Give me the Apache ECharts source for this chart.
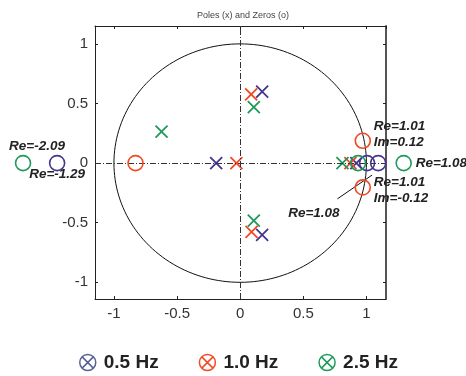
<!DOCTYPE html>
<html>
<head>
<meta charset="utf-8">
<script src="https://cdn.jsdelivr.net/npm/echarts@6/dist/echarts.min.js"></script>
<style>
html,body{margin:0;padding:0;background:#fff;}
#chart{width:466px;height:376px;}
</style>
</head>
<body>
<div id="chart"></div>
<script>
// ---- data ----
var seriesNames = ['0.5 Hz', '1.0 Hz', '2.5 Hz'];
var poles05 = [[-0.19, 0], [0.174, 0.60], [0.174, -0.603], [0.92, 0]];
var poles10 = [[-0.03, 0], [0.087, 0.577], [0.09, -0.577], [0.873, 0]];
var poles25 = [[-0.623, 0.264], [0.108, 0.469], [0.108, -0.483], [0.81, 0]];
var zeros05 = [[-1.45, 0], [1.005, 0], [1.093, 0]];
var zeros10 = [[-0.829, 0], [0.971, 0.187], [0.971, -0.204]];
var zeros25 = [[-1.72, 0], [0.934, 0], [1.295, 0]];
var zeroLabels05 = ['Re=-1.29', '', ''];
var zeroLabels10 = ['', 'Re=1.01\nIm=0.12', 'Re=1.01\nIm=-0.12'];
var zeroLabels25 = ['Re=-2.09', '', 'Re=1.08'];
var arrowNote = 'Re=1.08';
var arrowFrom = [0.77, -0.30];
var arrowTo = [1.045, -0.1];
var noteAt = [0.584, -0.424];
var unitCircle = [[0, 0, 1]];

// ---- styles ----
var colors = ['#45358f', '#f04a24', '#1f9a5a'];
var legendColors = ['#56628f', '#f04a24', '#1f9a5a'];
var FONT = 'Liberation Sans, Arial, sans-serif';
var XPATH = 'path://M0,0L10,10M10,0L0,10';
var OXPATH = 'path://M0,50A50,50 0 1,1 100,50A50,50 0 1,1 0,50Z M15,15L85,85M85,15L15,85';

var noteStyle = {fontFamily: FONT, fontSize: 13.5, fontWeight: 'bold', fontStyle: 'italic', color: '#222', lineHeight: 16};

// label placement per zero label (style only, content from arrays)
var labelPlace = {
  'Re=-1.29': {position: 'inside', offset: [0, 11], align: 'center'},
  'Re=-2.09': {position: 'inside', offset: [14, -17], align: 'center'},
  'Re=1.08': {position: 'inside', offset: [12, 0], align: 'left'},
  'Re=1.01\nIm=0.12': {position: 'inside', offset: [11, -7], align: 'left'},
  'Re=1.01\nIm=-0.12': {position: 'inside', offset: [11, 3], align: 'left'}
};

function zeroData(pts, labels) {
  return pts.map(function (p, i) {
    var t = labels[i];
    if (!t) return {value: p};
    var pl = labelPlace[t];
    return {
      value: p,
      label: Object.assign({show: true, formatter: t, verticalAlign: 'middle',
        position: pl.position, offset: pl.offset, align: pl.align}, noteStyle)
    };
  });
}

function poleSeries(name, pts, c) {
  return {
    name: name, type: 'scatter', data: pts, symbol: XPATH, symbolSize: 12,
    itemStyle: {color: 'rgba(0,0,0,0)', borderColor: c, borderWidth: 1.8, opacity: 1},
    z: 4, silent: true
  };
}
function zeroSeries(name, pts, labels, c) {
  return {
    name: name, type: 'scatter', data: zeroData(pts, labels), symbol: 'circle', symbolSize: 15,
    clip: false,
    itemStyle: {color: 'rgba(0,0,0,0)', borderColor: c, borderWidth: 1.6, opacity: 1},
    z: 5, silent: true
  };
}

var xMin = -1.15, xMax = 1.155, yMin = -1.14, yMax = 1.15;
var tickFmt = function (v) {
  var r = Math.round(v * 2) / 2;
  return Math.abs(r - v) < 1e-6 ? String(r) : '';
};
var axisCommon = {
  type: 'value', splitNumber: 5,
  splitLine: {show: false},
  axisTick: {show: true, inside: true, length: 3, lineStyle: {color: '#222', width: 1}},
  axisLine: {show: true, onZero: false, lineStyle: {color: '#222', width: 1}}
};

var chart = echarts.init(document.getElementById('chart'), null, {renderer: 'canvas'});
chart.setOption({
  animation: false,
  backgroundColor: '#fff',
  title: {
    text: 'Poles (x) and Zeros (o)', left: 238, top: 6, textAlign: 'center',
    textStyle: {fontFamily: FONT, fontSize: 9, fontWeight: 'normal', color: '#444'}
  },
  legend: {
    left: 74, top: 348, itemWidth: 16, itemHeight: 16, itemGap: 40,
    selectedMode: false,
    textStyle: {fontFamily: FONT, fontSize: 19, fontWeight: 'bold', color: '#222', padding: [0, 0, 0, 3]},
    data: seriesNames.map(function (n, i) {
      return {name: n, icon: OXPATH,
        itemStyle: {color: 'rgba(0,0,0,0)', borderColor: legendColors[i], borderWidth: 1.5}};
    })
  },
  grid: {left: 95, right: 80, top: 26, bottom: 77, containLabel: false},
  xAxis: [
    Object.assign({}, axisCommon, {
      position: 'bottom', min: xMin, max: xMax,
      axisLabel: {show: true, margin: 7, fontFamily: FONT, fontSize: 15, color: '#333',
        showMinLabel: false, showMaxLabel: false, formatter: tickFmt}
    }),
    Object.assign({}, axisCommon, {
      position: 'top', min: xMin, max: xMax, axisLabel: {show: false}
    })
  ],
  yAxis: [
    Object.assign({}, axisCommon, {
      position: 'left', min: yMin, max: yMax,
      axisLabel: {show: true, margin: 7, fontFamily: FONT, fontSize: 15, color: '#333',
        showMinLabel: false, showMaxLabel: false, formatter: tickFmt}
    }),
    Object.assign({}, axisCommon, {
      position: 'right', min: yMin, max: yMax, axisLabel: {show: false},
      axisLine: {show: true, onZero: false, lineStyle: {color: '#555', width: 2}}
    })
  ],
  series: [
    {
      type: 'custom', coordinateSystem: 'cartesian2d', data: unitCircle, silent: true, z: 1,
      clip: true,
      renderItem: function (params, api) {
        var cx = api.value(0), cy = api.value(1), r = api.value(2);
        var pts = [];
        for (var k = 0; k <= 360; k += 2) {
          var t = k * Math.PI / 180;
          pts.push(api.coord([cx + r * Math.cos(t), cy + r * Math.sin(t)]));
        }
        return {type: 'polygon', shape: {points: pts}, style: {fill: 'none', stroke: '#111', lineWidth: 1}};
      },
      markLine: {
        silent: true, symbol: 'none', animation: false,
        label: {show: false},
        lineStyle: {type: [6, 2, 1, 2], color: '#333', width: 1},
        data: [{xAxis: 0}, {yAxis: 0}]
      }
    },
    poleSeries(seriesNames[0], poles05, colors[0]),
    poleSeries(seriesNames[1], poles10, colors[1]),
    poleSeries(seriesNames[2], poles25, colors[2]),
    zeroSeries(seriesNames[0], zeros05, zeroLabels05, colors[0]),
    zeroSeries(seriesNames[1], zeros10, zeroLabels10, colors[1]),
    zeroSeries(seriesNames[2], zeros25, zeroLabels25, colors[2]),
    {
      type: 'scatter', data: [noteAt], symbolSize: 0, silent: true, z: 6, clip: false,
      itemStyle: {opacity: 1},
      label: Object.assign({show: true, position: 'inside', formatter: arrowNote}, noteStyle),
      markLine: {
        silent: true, symbol: ['none', 'arrow'], symbolSize: [0, 6], animation: false,
        label: {show: false},
        lineStyle: {type: 'solid', color: '#111', width: 1, opacity: 1},
        data: [[{coord: arrowFrom}, {coord: arrowTo}]]
      }
    }
  ]
});
</script>
</body>
</html>
